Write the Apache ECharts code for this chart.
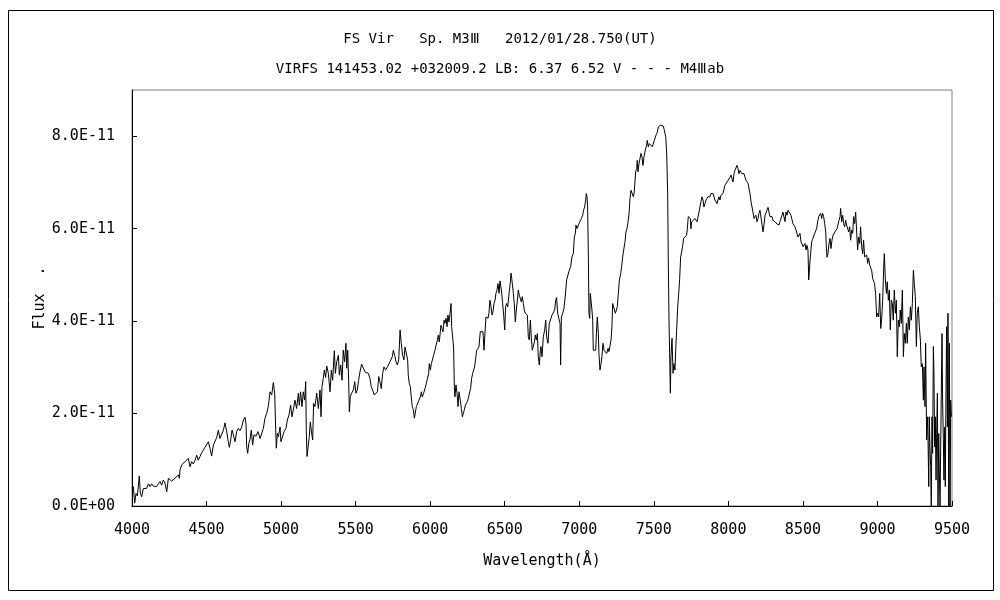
<!DOCTYPE html>
<html>
<head>
<meta charset="utf-8">
<script src="https://cdn.jsdelivr.net/npm/echarts@6/dist/echarts.min.js"></script>
<style>
html,body{margin:0;padding:0;background:#fff;}
#chart{width:1000px;height:600px;}
</style>
</head>
<body>
<div id="chart"></div>
<script>
// Title texts
const titleLine1 = 'FS Vir   Sp. M3\u2162   2012/01/28.750(UT)';
const titleLine2 = 'VIRFS 141453.02 +032009.2 LB: 6.37 6.52 V - - - M4\u2162ab';
const xAxisName = 'Wavelength(\u00C5)';
const yAxisName = 'Flux  .';

// Axis ranges (wavelength in Angstrom, flux in units of 1E-11)
const xMin = 4000, xMax = 9500, xStep = 500;
const yMin = 0, yMax = 9, yStep = 2;

// Spectrum: wavelength (Angstrom)
const wavelength = [
4003,4009,4018,4027,4036,4049,4056,4065,4076,4087,4098,4110,4121,4132,4143,4154,4165,4177,4188,4199,
4210,4221,4233,4244,4255,4266,4277,4288,4300,4311,4318,4322,4333,4344,4356,4367,4378,4389,4400,4411,
4423,4434,4445,4456,4467,4478,4490,4501,4512,4523,4534,4546,4557,4568,4579,4590,4602,4613,4624,4635,
4646,4653,4662,4671,4680,4691,4702,4713,4724,4736,4747,4758,4765,4769,4776,4783,4791,4800,4809,4818,
4832,4845,4859,4870,4881,4892,4903,4914,4926,4937,4948,
4957,4964,4968,4975,4982,4993,4999,5011,5020,5033,5042,5053,5064,5073,5082,5093,5104,5116,5122,5131,
5140,5149,5158,5165,5169,5174,5181,5189,5196,5205,5212,5218,5227,5239,5250,5261,5268,5274,5283,5290,
5299,5306,5317,5328,5337,5346,5357,5364,5373,5384,5391,5400,5409,5417,5426,5435,5440,5447,5453,5458,
5464,5473,5485,5494,5502,5511,5520,5529,5540,5552,5563,5574,5585,5596,5605,5614,5625,5637,5646,5655,
5663,5672,5681,5690,5701,5713,5724,5735,5746,5753,5762,5771,5780,5789,5798,5806,5815,5824,5831,
5844,5849,5853,5860,5867,5873,5880,5887,5894,5900,5907,5916,5925,5934,5941,5947,5956,5965,5974,5983,
5990,5994,6001,6008,6014,6023,6032,6041,6048,6055,6061,6068,6072,6079,6086,6093,6099,6106,6113,6119,
6126,6133,6140,6144,6151,6157,6162,6166,6173,6180,6187,6193,6202,6209,6216,6222,6229,6236,6242,6249,
6256,6265,6271,6278,6285,6292,6298,6305,6312,6318,6327,6336,6345,6354,6361,6368,6374,6381,6388,6394,
6401,6408,6415,6421,6428,6435,6441,6448,6455,6462,6468,6475,6479,6486,6493,6500,6506,6513,6520,6529,
6538,6542,6547,6551,6558,6564,6571,6578,6584,6591,6598,6605,6611,6618,6625,6631,6638,6645,6652,6658,
6665,6672,6678,6685,6692,6699,6705,6712,6719,6725,6732,6739,
6743,6750,6759,6768,6775,6781,6790,6799,6808,6817,6826,6835,6842,6848,6855,6864,6871,6875,6880,6889,
6897,6906,6915,6924,6933,6942,6951,6960,6967,6974,6978,6985,6991,6998,7005,7014,7023,7029,7036,7043,
7047,7052,7056,7061,7065,7070,7074,7081,7085,7090,7094,7101,7110,7117,7121,7128,7132,7139,7146,7152,
7159,7166,7175,7184,7193,7199,7206,7213,7219,7224,7233,7242,7249,7255,7262,7269,7278,7284,7291,7298,
7307,7313,7320,7327,7334,7340,7347,7354,7363,7369,7378,7385,7389,7394,7401,7407,7414,7421,7427,7434,
7443,7452,7456,7463,7470,7477,7483,7490,7497,7503,7510,7517,7524,7530,7537,7546,7555,7564,7573,7580,
7586,7593,7597,7602,7606,7611,7615,7622,7629,7635,7642,7647,7653,7660,7667,7673,
7680,7687,7693,7700,7707,7713,7720,7725,7731,7738,7745,7749,7754,7760,7767,7776,7783,7790,7796,7803,
7810,7816,7823,7830,7836,7843,7850,7857,7863,7870,7877,7883,7890,7897,7904,7910,7917,7924,7930,7937,
7944,7950,7957,7964,7971,7977,7984,7991,7997,8004,8011,8018,8024,8031,8038,8044,8051,8058,8065,8071,
8078,8085,8091,8098,8105,8111,8118,8125,8132,8138,8145,8152,8158,8165,8172,8179,8185,8192,8199,8205,
8212,8219,8226,8232,8239,8246,8252,8259,8266,8272,8279,8286,8293,8299,8306,8313,8319,8326,8333,8340,
8346,8353,8360,8366,8373,8380,8386,8393,8400,8407,8413,8420,8427,8433,8440,8447,8454,8460,8467,8474,
8480,8487,8494,8501,8507,8514,8521,8527,8534,8539,8543,8548,
8559,8565,8572,8579,8586,8592,8599,8606,8612,8619,8626,8632,8639,8646,8653,8657,8662,8668,8675,8682,
8688,8695,8702,8708,8715,8722,8729,8735,8742,8749,8753,8760,8767,8773,8780,8787,8793,8800,8807,8814,
8820,8827,8834,8840,8847,8854,8861,8867,8874,8881,8887,8894,8901,8907,8914,8921,8928,8934,8941,8948,
8954,8961,8968,8975,8981,8988,8995,9001,9008,9015,9022,9028,9035,9042,9046,9053,9060,9066,9073,9080,
9086,9093,9100,9106,9113,9120,9127,9133,9140,9147,9153,9160,9167,9174,9180,9187,9194,9200,9207,9214,
9221,9227,9234,9241,9247,9254,9261,9267,9274,9281,9288,9294,9301,9308,9312,9319,9323,9330,9337,9344,
9348,9352,9357,9361,9366,9370,9375,9379,9384,9388,9393,9397,9402,9406,9411,9415,9420,9424,9428,9433,
9437,9442,9446,9451,9455,9460,9464,9469,9473,9478,9482,9487,9491,9496
];

// Spectrum: flux (units of 1E-11)
const flux = [
0.35,0.42,0.06,0.27,0.22,0.65,0.27,0.20,0.38,0.42,0.38,0.48,0.42,0.48,0.43,0.45,0.42,0.48,0.53,0.45,
0.56,0.50,0.31,0.60,0.60,0.54,0.53,0.60,0.63,0.67,0.60,0.78,0.89,0.85,0.96,0.99,1.03,0.85,0.96,0.91,
0.99,1.10,0.99,1.07,1.15,1.21,1.27,1.23,1.39,1.25,1.08,1.32,1.35,1.48,1.64,1.46,1.43,1.64,1.80,1.61,
1.39,1.27,1.43,1.64,1.54,1.39,1.61,1.68,1.63,1.71,1.86,1.92,1.77,1.28,1.14,1.35,1.43,1.64,1.32,1.54,
1.51,1.61,1.46,1.44,1.68,1.90,2.00,2.15,2.47,2.40,2.67,
2.44,1.64,1.25,1.57,1.50,1.71,1.39,1.43,1.61,1.68,1.86,1.97,2.18,1.93,2.08,2.29,2.11,2.44,2.18,2.47,
2.15,2.47,2.29,2.69,1.64,1.07,1.28,1.50,1.82,1.57,1.43,2.22,2.15,2.44,2.11,2.51,1.93,2.58,2.76,2.94,
2.78,3.03,2.87,2.47,2.94,2.72,3.36,2.87,3.12,3.26,2.83,3.05,2.72,3.37,3.12,3.52,2.98,3.37,2.72,2.04,
2.36,2.44,2.51,2.69,2.44,2.51,2.72,2.90,3.07,3.08,2.90,2.94,2.87,2.76,2.58,2.51,2.40,2.36,2.47,2.80,
2.69,2.54,2.87,3.01,2.94,3.01,3.08,3.12,3.23,3.37,3.26,3.12,3.05,3.16,3.81,3.52,3.26,3.16,3.44,
3.43,3.16,2.83,2.65,2.58,2.36,2.15,2.08,1.90,1.93,2.15,2.18,2.29,2.36,2.47,2.36,2.44,2.54,2.65,2.67,
2.87,3.08,2.94,3.08,3.05,3.26,3.37,3.41,3.59,3.70,3.55,3.77,3.91,3.84,3.77,4.02,3.95,4.06,3.88,4.13,
3.98,4.17,4.38,3.88,3.63,3.44,2.58,2.36,2.62,2.44,2.15,2.47,2.29,2.11,1.93,2.00,2.08,2.18,2.15,2.26,
2.33,2.47,2.54,2.76,2.87,2.83,3.01,3.19,3.37,3.41,3.44,3.77,3.81,3.77,3.37,3.77,4.09,4.13,4.06,4.17,
4.45,4.31,4.13,4.20,4.38,4.45,4.60,4.67,4.81,4.60,4.87,4.89,4.63,4.38,4.13,3.81,4.31,4.38,4.31,4.60,
4.85,5.04,4.92,4.81,4.60,4.38,3.98,4.24,4.42,4.67,4.56,4.60,4.42,4.53,4.38,4.24,4.17,4.20,4.13,3.66,
3.59,4.02,3.66,3.37,3.41,3.55,3.70,3.59,3.73,3.23,3.05,3.37,
3.45,3.23,3.66,3.81,4.02,3.66,3.52,3.95,3.99,4.13,4.17,4.24,4.45,4.51,4.17,4.20,3.95,3.05,4.09,4.17,
4.27,4.53,4.89,4.92,5.10,5.18,5.39,5.46,5.82,5.90,6.08,6.00,5.97,6.11,6.08,6.22,6.29,6.40,6.47,6.62,
6.76,6.69,6.47,5.39,4.17,4.06,4.60,4.63,4.24,4.02,3.37,3.37,3.37,3.88,4.09,3.73,3.30,2.94,3.08,3.23,
3.52,3.37,3.41,3.30,3.41,3.34,3.37,3.59,3.88,4.38,4.42,4.17,4.24,4.31,4.60,4.89,5.03,5.18,5.39,5.54,
5.72,5.93,6.00,6.15,6.33,6.65,6.83,6.87,6.69,6.80,7.23,7.30,7.48,7.23,7.41,7.45,7.63,7.55,7.37,7.55,
7.70,7.81,7.91,7.77,7.84,7.88,7.84,7.77,7.81,7.91,7.95,8.04,8.09,8.20,8.22,8.24,8.22,8.22,8.20,7.99,
7.66,6.76,5.32,4.02,3.30,2.44,3.23,3.63,2.87,3.08,2.94,3.40,3.80,4.30,4.60,4.90,
5.39,5.50,5.61,5.79,5.81,5.79,5.86,6.00,6.26,6.29,6.22,6.00,6.15,6.11,6.17,6.22,6.26,6.15,6.18,6.36,
6.40,6.58,6.69,6.62,6.47,6.54,6.62,6.65,6.69,6.72,6.69,6.76,6.77,6.76,6.76,6.62,6.65,6.54,6.62,6.69,
6.62,6.72,6.76,6.76,6.80,6.94,6.98,7.01,7.05,6.98,7.11,7.16,7.12,7.01,7.19,7.26,7.23,7.37,7.30,7.19,
7.26,7.23,7.19,7.16,7.19,7.12,7.05,7.05,6.98,6.94,6.76,6.58,6.54,6.36,6.22,6.26,6.29,6.15,6.22,6.33,
6.40,6.44,6.08,5.93,6.08,6.29,6.26,6.40,6.46,6.44,6.26,6.22,6.26,6.18,6.17,6.15,6.11,6.10,6.12,6.08,
6.15,6.18,6.29,6.36,6.40,6.15,6.36,6.29,6.40,6.41,6.36,6.29,6.33,6.11,6.08,6.04,5.97,5.93,5.82,5.79,
5.90,5.72,5.75,5.61,5.57,5.68,5.54,5.64,5.54,4.89,4.92,5.32,
5.72,5.77,5.75,5.90,5.93,6.00,6.15,6.26,6.29,6.33,6.22,6.33,6.26,6.11,5.93,5.61,5.38,5.46,5.68,5.79,
5.57,5.75,5.86,5.82,5.93,5.90,6.00,6.08,6.18,6.26,6.44,6.15,6.29,6.11,6.04,6.18,6.08,6.11,5.93,6.04,
5.75,5.97,5.90,6.26,6.11,6.36,5.90,5.54,5.82,5.68,6.04,5.61,5.46,5.75,5.39,5.36,5.43,5.25,5.36,5.21,
5.17,5.10,4.92,4.92,4.81,4.56,4.09,4.17,4.09,4.60,3.84,4.02,4.45,5.17,5.46,4.89,4.60,4.85,4.45,4.67,
3.81,4.45,4.38,4.02,4.67,4.17,4.45,3.23,4.02,3.88,4.24,3.95,4.67,3.23,3.73,3.52,3.95,3.52,4.09,3.81,
4.31,4.02,4.38,5.10,4.81,4.53,3.45,4.17,4.31,3.88,3.59,3.01,3.08,2.29,3.01,2.15,3.52,1.43,1.93,0.42,
1.93,1.28,0.85,0.00,1.93,1.14,3.45,2.87,1.28,1.93,0.56,1.57,2.44,0.00,1.57,0.71,0.00,1.28,2.36,3.73,
2.29,1.43,0.56,1.71,0.42,2.58,3.88,1.71,4.17,0.00,3.52,0.00,2.29,1.93
];

const FONT = '"DejaVu Sans Mono", "Liberation Mono", monospace';
const chart = echarts.init(document.getElementById('chart'), null, {renderer: 'canvas'});
const seriesData = wavelength.map((w, i) => [w, flux[i]]);

chart.setOption({
  animation: false,
  backgroundColor: '#ffffff',
  textStyle: {fontFamily: FONT, color: '#000'},
  title: [
    {text: titleLine1, left: 'center', top: 27, textStyle: {fontFamily: FONT, fontSize: 14, fontWeight: 'normal', color: '#000'}},
    {text: titleLine2, left: 'center', top: 57, textStyle: {fontFamily: FONT, fontSize: 14, fontWeight: 'normal', color: '#000'}}
  ],
  graphic: [
    {type: 'rect', shape: {x: 8.5, y: 10.5, width: 985, height: 580}, style: {fill: 'none', stroke: '#000', lineWidth: 1}, silent: true}
  ],
  grid: {left: 132, right: 48, top: 90, bottom: 94, show: true, borderColor: '#808080', borderWidth: 1, backgroundColor: 'transparent'},
  xAxis: {
    type: 'value', min: xMin, max: xMax, interval: xStep,
    name: xAxisName, nameLocation: 'middle', nameGap: 48,
    nameTextStyle: {fontFamily: FONT, fontSize: 15, color: '#000'},
    axisLine: {show: true, lineStyle: {color: '#000', width: 1}},
    axisTick: {show: true, inside: true, length: 5, lineStyle: {color: '#000'}},
    axisLabel: {color: '#000', fontFamily: FONT, fontSize: 15, margin: 17, formatter: v => String(v)},
    splitLine: {show: false}
  },
  yAxis: {
    type: 'value', min: yMin, max: yMax, interval: yStep,
    name: yAxisName, nameLocation: 'middle', nameGap: 84, nameRotate: 90, nameMoveOverlap: false,
    nameTextStyle: {fontFamily: FONT, fontSize: 15, color: '#000'},
    axisLine: {show: true, lineStyle: {color: '#000', width: 1}},
    axisTick: {show: true, inside: true, length: 5, lineStyle: {color: '#000'}},
    axisLabel: {
      color: '#000', fontFamily: FONT, fontSize: 15, margin: 17, showMaxLabel: false,
      formatter: v => v === 0 ? '0.0E+00' : v.toFixed(1) + 'E-11'
    },
    splitLine: {show: false}
  },
  series: [{
    type: 'line', data: seriesData, showSymbol: false, symbol: 'none',
    lineStyle: {color: '#000', width: 1}, silent: true
  }]
});
</script>
</body>
</html>
